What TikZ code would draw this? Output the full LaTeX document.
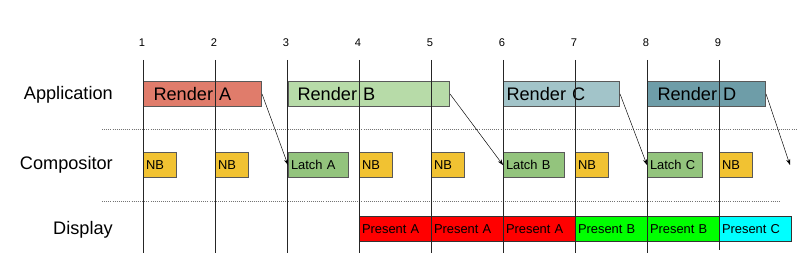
\documentclass[tikz,border=0pt]{standalone}
\usepackage{fontspec}
\setmainfont{Liberation Sans}
\usetikzlibrary{arrows.meta}

\definecolor{renderAcol}{RGB}{224,124,107}
\definecolor{renderBcol}{RGB}{183,219,168}
\definecolor{renderCcol}{RGB}{162,196,201}
\definecolor{renderDcol}{RGB}{110,157,168}
\definecolor{nbcol}{RGB}{241,194,50}
\definecolor{latchcol}{RGB}{147,196,125}
\definecolor{presAcol}{RGB}{255,0,0}
\definecolor{presBcol}{RGB}{0,255,0}
\definecolor{presCcol}{RGB}{0,255,255}

\begin{document}
\begin{tikzpicture}[
    >={Stealth[length=5pt,width=3.5pt]},
    x=0.03cm,
    y=-0.03cm,
    box/.style={draw=black!65, line width=0.9pt, anchor=north west, minimum height=0.75cm, inner ysep=0pt, align=left},
    render/.style={box, font=\fontsize{15.5}{18}\selectfont, inner xsep=0.3cm},
    small/.style={box, font=\fontsize{11}{13}\selectfont, inner xsep=0.075cm},
    lane/.style={anchor=east, inner sep=0pt, font=\fontsize{15.5}{18}\selectfont},
    tick/.style={font=\fontsize{9.5}{11}\selectfont},
    sep/.style={densely dotted, black!55, thick},
    vline/.style={thick, black!85}
]

% parameters
\def\xone{143}   % first vsync
\def\slot{72}    % vsync period

\useasboundingbox (0,0) rectangle (797,265);

% ---------------- lane labels ----------------
\node[lane] (app) at (113,95) {Application};
\node[lane] (comp) at (113,165) {Compositor};
\node[lane] (disp) at (113,230) {Display};

% ---------------- separators ----------------
\coordinate (sepAl) at (102,129);
\coordinate (sepAr) at (797,129);
\coordinate (sepBl) at (102,201);
\coordinate (sepBr) at (780,201);
\draw[sep] (sepAl) -- (sepAr);
\draw[sep] (sepBl) -- (sepBr);

% ---------------- Application: render boxes ----------------
\foreach \name/\lab/\x/\w/\pad/\col in {renderA/Render A/143/118/10/renderAcol,
    renderB/Render B/288/161/9/renderBcol,
    renderC/Render C/503/116/3/renderCcol,
    renderD/Render D/647/118/10/renderDcol}{
    \pgfmathsetmacro{\bw}{\w*0.03}
    \pgfmathsetmacro{\bp}{\pad*0.03}
    \pgfmathsetmacro{\tw}{(\w-2*\pad)*0.03}
    \node[render, fill=\col, minimum width=\bw cm, inner xsep=\bp cm, text width=\tw cm]
        (\name) at (\x,81) {\lab};
}

% ---------------- Compositor ----------------
\foreach \i in {1,2,4,5,7,9}{
    \pgfmathsetmacro{\x}{\xone + (\i-1)*\slot}
    \node[small, fill=nbcol, minimum width=0.99cm, text width=0.84cm] (nb\i) at (\x,152) {NB};
}
\foreach \name/\lab/\x/\w in {latchA/Latch A/288/60, latchB/Latch B/503/61, latchC/Latch C/647/55}{
    \pgfmathsetmacro{\bw}{\w*0.03}
    \pgfmathsetmacro{\tw}{(\w-5)*0.03}
    \node[small, fill=latchcol, minimum width=\bw cm, text width=\tw cm] (\name) at (\x,152) {\lab};
}

% ---------------- Display ----------------
\foreach \i/\lab/\col in {4/Present A/presAcol, 5/Present A/presAcol, 6/Present A/presAcol,
    7/Present B/presBcol, 8/Present B/presBcol, 9/Present C/presCcol}{
    \pgfmathsetmacro{\x}{\xone + (\i-1)*\slot}
    \node[small, draw=black!80, fill=\col, minimum width=2.16cm, text width=2.01cm] (present\i) at (\x,216) {\lab};
}

% ---------------- vsync lines ----------------
\foreach \i in {1,...,9}{
    \pgfmathsetmacro{\x}{\xone + (\i-1)*\slot}
    \node[tick] (num\i) at (\x-1,43) {\i};
    \coordinate (top\i) at (\x,60);
    \ifnum\i=9
        \coordinate (bot\i) at (\x,250);
    \else
        \coordinate (bot\i) at (\x,253);
    \fi
    \draw[vline] (top\i) -- (bot\i);
}

% ---------------- latch arrows ----------------
\coordinate (latchD) at (790,165);
\draw[->] (renderA.east) -- (latchA.west);
\draw[->] (renderB.east) -- (latchB.west);
\draw[->] (renderC.east) -- (latchC.west);
\draw[->] (renderD.east) -- (latchD);

\end{tikzpicture}
\end{document}
